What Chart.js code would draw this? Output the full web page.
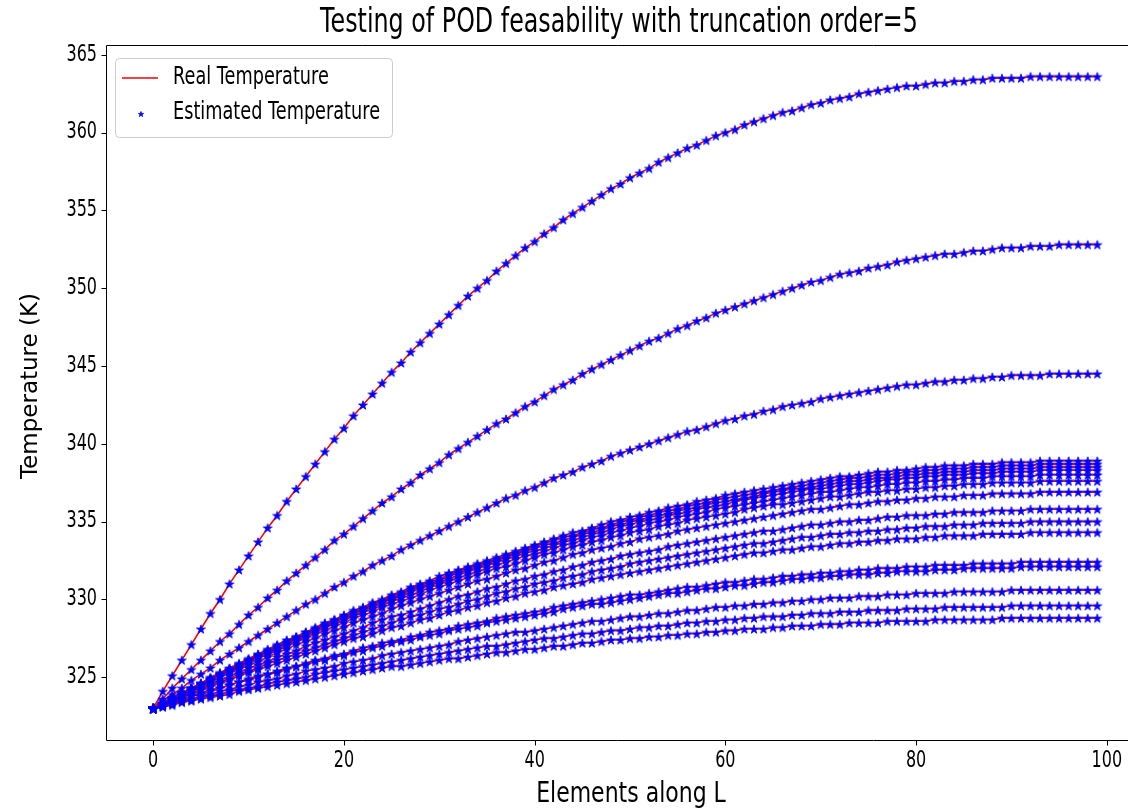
<!DOCTYPE html>
<html>
<head>
<meta charset="utf-8">
<title>Testing of POD feasability</title>
<script src="https://cdn.jsdelivr.net/npm/chart.js@4.4.1/dist/chart.umd.min.js"></script>
<style>
  html, body { margin: 0; padding: 0; background: #fff; overflow: hidden; }
  #wrap { width: 1128px; height: 810px; }
  canvas { display: block; }
</style>
</head>
<body>
<div id="wrap"><canvas id="myChart" width="1128" height="810"></canvas></div>
<script>
// element index along L
const elements = [
  0,1,2,3,4,5,6,7,8,9,10,11,12,13,14,15,16,17,18,19,
  20,21,22,23,24,25,26,27,28,29,30,31,32,33,34,35,36,37,38,39,
  40,41,42,43,44,45,46,47,48,49,50,51,52,53,54,55,56,57,58,59,
  60,61,62,63,64,65,66,67,68,69,70,71,72,73,74,75,76,77,78,79,
  80,81,82,83,84,85,86,87,88,89,90,91,92,93,94,95,96,97,98,99
];

// temperature profiles (K), one per snapshot
const run01 = [
  323.0,324.1,325.1,326.1,327.1,328.1,329.1,330.0,331.0,331.9,
  332.8,333.7,334.6,335.4,336.3,337.1,337.9,338.7,339.5,340.3,
  341.0,341.8,342.5,343.2,343.9,344.6,345.2,345.9,346.5,347.1,
  347.7,348.3,348.9,349.5,350.0,350.5,351.1,351.6,352.1,352.6,
  353.0,353.5,353.9,354.4,354.8,355.2,355.6,356.0,356.4,356.7,
  357.1,357.4,357.7,358.1,358.4,358.7,359.0,359.2,359.5,359.8,
  360.0,360.2,360.5,360.7,360.9,361.1,361.3,361.4,361.6,361.8,
  361.9,362.1,362.2,362.3,362.5,362.6,362.7,362.8,362.9,363.0,
  363.0,363.1,363.2,363.2,363.3,363.3,363.4,363.4,363.5,363.5,
  363.5,363.5,363.6,363.6,363.6,363.6,363.6,363.6,363.6,363.6
];
const run02 = [
  323.0,323.6,324.3,324.9,325.5,326.1,326.7,327.3,327.8,328.4,
  329.0,329.5,330.1,330.6,331.2,331.7,332.2,332.7,333.2,333.8,
  334.2,334.7,335.2,335.7,336.2,336.6,337.1,337.5,338.0,338.4,
  338.8,339.3,339.7,340.1,340.5,340.9,341.3,341.6,342.0,342.4,
  342.7,343.1,343.5,343.8,344.1,344.5,344.8,345.1,345.4,345.7,
  346.0,346.3,346.6,346.8,347.1,347.4,347.6,347.9,348.1,348.4,
  348.6,348.8,349.0,349.2,349.4,349.6,349.8,350.0,350.2,350.4,
  350.5,350.7,350.9,351.0,351.1,351.3,351.4,351.5,351.7,351.8,
  351.9,352.0,352.1,352.2,352.2,352.3,352.4,352.4,352.5,352.6,
  352.6,352.6,352.7,352.7,352.7,352.8,352.8,352.8,352.8,352.8
];
const run03 = [
  323.0,323.5,323.9,324.3,324.8,325.2,325.6,326.1,326.5,326.9,
  327.3,327.7,328.1,328.5,328.9,329.3,329.7,330.0,330.4,330.8,
  331.1,331.5,331.8,332.2,332.5,332.8,333.2,333.5,333.8,334.1,
  334.4,334.7,335.0,335.3,335.6,335.9,336.2,336.5,336.7,337.0,
  337.2,337.5,337.8,338.0,338.2,338.5,338.7,338.9,339.2,339.4,
  339.6,339.8,340.0,340.2,340.4,340.6,340.8,340.9,341.1,341.3,
  341.5,341.6,341.8,341.9,342.1,342.2,342.4,342.5,342.6,342.7,
  342.9,343.0,343.1,343.2,343.3,343.4,343.5,343.6,343.7,343.8,
  343.8,343.9,344.0,344.0,344.1,344.1,344.2,344.2,344.3,344.3,
  344.4,344.4,344.4,344.4,344.5,344.5,344.5,344.5,344.5,344.5
];
const run04 = [
  323.0,323.3,323.7,324.0,324.3,324.6,325.0,325.3,325.6,325.9,
  326.2,326.5,326.8,327.1,327.4,327.6,327.9,328.2,328.5,328.7,
  329.0,329.3,329.5,329.8,330.0,330.3,330.5,330.8,331.0,331.2,
  331.5,331.7,331.9,332.1,332.3,332.5,332.7,332.9,333.1,333.3,
  333.5,333.7,333.9,334.1,334.3,334.4,334.6,334.8,335.0,335.1,
  335.3,335.4,335.6,335.7,335.9,336.0,336.1,336.3,336.4,336.5,
  336.7,336.8,336.9,337.0,337.1,337.2,337.3,337.4,337.5,337.6,
  337.7,337.8,337.9,337.9,338.0,338.1,338.2,338.2,338.3,338.3,
  338.4,338.5,338.5,338.6,338.6,338.6,338.7,338.7,338.7,338.8,
  338.8,338.8,338.8,338.9,338.9,338.9,338.9,338.9,338.9,338.9
];
const run05 = [
  323.0,323.3,323.7,324.0,324.3,324.6,324.9,325.2,325.5,325.8,
  326.1,326.4,326.7,327.0,327.3,327.6,327.9,328.1,328.4,328.7,
  328.9,329.2,329.4,329.7,329.9,330.2,330.4,330.7,330.9,331.1,
  331.3,331.6,331.8,332.0,332.2,332.4,332.6,332.8,333.0,333.2,
  333.4,333.6,333.8,334.0,334.1,334.3,334.5,334.6,334.8,335.0,
  335.1,335.3,335.4,335.6,335.7,335.8,336.0,336.1,336.2,336.4,
  336.5,336.6,336.7,336.8,336.9,337.0,337.1,337.2,337.3,337.4,
  337.5,337.6,337.7,337.8,337.8,337.9,338.0,338.0,338.1,338.2,
  338.2,338.3,338.3,338.4,338.4,338.4,338.5,338.5,338.5,338.6,
  338.6,338.6,338.6,338.7,338.7,338.7,338.7,338.7,338.7,338.7
];
const run06 = [
  323.0,323.3,323.7,324.0,324.3,324.6,324.9,325.2,325.5,325.8,
  326.1,326.4,326.7,327.0,327.2,327.5,327.8,328.1,328.3,328.6,
  328.9,329.1,329.4,329.6,329.8,330.1,330.3,330.6,330.8,331.0,
  331.2,331.5,331.7,331.9,332.1,332.3,332.5,332.7,332.9,333.1,
  333.3,333.5,333.6,333.8,334.0,334.2,334.3,334.5,334.7,334.8,
  335.0,335.1,335.3,335.4,335.5,335.7,335.8,335.9,336.1,336.2,
  336.3,336.4,336.5,336.6,336.8,336.9,337.0,337.1,337.1,337.2,
  337.3,337.4,337.5,337.6,337.6,337.7,337.8,337.8,337.9,338.0,
  338.0,338.1,338.1,338.2,338.2,338.2,338.3,338.3,338.3,338.4,
  338.4,338.4,338.4,338.5,338.5,338.5,338.5,338.5,338.5,338.5
];
const run07 = [
  323.0,323.3,323.6,324.0,324.3,324.6,324.9,325.2,325.5,325.8,
  326.1,326.4,326.6,326.9,327.2,327.5,327.7,328.0,328.3,328.5,
  328.8,329.0,329.3,329.5,329.8,330.0,330.2,330.5,330.7,330.9,
  331.1,331.3,331.6,331.8,332.0,332.2,332.4,332.6,332.8,333.0,
  333.1,333.3,333.5,333.7,333.8,334.0,334.2,334.3,334.5,334.7,
  334.8,335.0,335.1,335.2,335.4,335.5,335.6,335.8,335.9,336.0,
  336.1,336.3,336.4,336.5,336.6,336.7,336.8,336.9,337.0,337.1,
  337.1,337.2,337.3,337.4,337.4,337.5,337.6,337.7,337.7,337.8,
  337.8,337.9,337.9,338.0,338.0,338.0,338.1,338.1,338.1,338.2,
  338.2,338.2,338.2,338.3,338.3,338.3,338.3,338.3,338.3,338.3
];
const run08 = [
  323.0,323.3,323.6,323.9,324.2,324.5,324.8,325.1,325.4,325.7,
  326.0,326.3,326.6,326.8,327.1,327.4,327.6,327.9,328.2,328.4,
  328.7,328.9,329.2,329.4,329.6,329.9,330.1,330.3,330.5,330.8,
  331.0,331.2,331.4,331.6,331.8,332.0,332.2,332.4,332.6,332.8,
  332.9,333.1,333.3,333.5,333.6,333.8,334.0,334.1,334.3,334.4,
  334.6,334.7,334.9,335.0,335.1,335.3,335.4,335.5,335.6,335.8,
  335.9,336.0,336.1,336.2,336.3,336.4,336.5,336.6,336.7,336.8,
  336.9,336.9,337.0,337.1,337.2,337.2,337.3,337.4,337.4,337.5,
  337.5,337.6,337.6,337.7,337.7,337.8,337.8,337.8,337.9,337.9,
  337.9,337.9,337.9,338.0,338.0,338.0,338.0,338.0,338.0,338.0
];
const run09 = [
  323.0,323.3,323.6,323.9,324.2,324.5,324.8,325.1,325.4,325.6,
  325.9,326.2,326.5,326.7,327.0,327.3,327.5,327.8,328.0,328.3,
  328.5,328.8,329.0,329.2,329.5,329.7,329.9,330.1,330.3,330.6,
  330.8,331.0,331.2,331.4,331.6,331.8,332.0,332.1,332.3,332.5,
  332.7,332.9,333.0,333.2,333.4,333.5,333.7,333.8,334.0,334.1,
  334.3,334.4,334.5,334.7,334.8,334.9,335.1,335.2,335.3,335.4,
  335.5,335.6,335.8,335.9,336.0,336.1,336.1,336.2,336.3,336.4,
  336.5,336.6,336.6,336.7,336.8,336.9,336.9,337.0,337.0,337.1,
  337.1,337.2,337.2,337.3,337.3,337.4,337.4,337.4,337.5,337.5,
  337.5,337.5,337.5,337.6,337.6,337.6,337.6,337.6,337.6,337.6
];
const run10 = [
  323.0,323.3,323.6,323.9,324.2,324.4,324.7,325.0,325.3,325.5,
  325.8,326.0,326.3,326.6,326.8,327.1,327.3,327.5,327.8,328.0,
  328.2,328.5,328.7,328.9,329.1,329.4,329.6,329.8,330.0,330.2,
  330.4,330.6,330.8,331.0,331.2,331.3,331.5,331.7,331.9,332.0,
  332.2,332.4,332.5,332.7,332.9,333.0,333.2,333.3,333.4,333.6,
  333.7,333.9,334.0,334.1,334.2,334.4,334.5,334.6,334.7,334.8,
  334.9,335.0,335.1,335.2,335.3,335.4,335.5,335.6,335.7,335.8,
  335.8,335.9,336.0,336.1,336.1,336.2,336.3,336.3,336.4,336.4,
  336.5,336.5,336.6,336.6,336.6,336.7,336.7,336.7,336.8,336.8,
  336.8,336.8,336.8,336.9,336.9,336.9,336.9,336.9,336.9,336.9
];
const run11 = [
  323.0,323.3,323.5,323.8,324.1,324.3,324.6,324.8,325.1,325.3,
  325.6,325.8,326.0,326.3,326.5,326.7,327.0,327.2,327.4,327.6,
  327.8,328.0,328.2,328.5,328.7,328.9,329.0,329.2,329.4,329.6,
  329.8,330.0,330.2,330.3,330.5,330.7,330.8,331.0,331.2,331.3,
  331.5,331.6,331.8,331.9,332.1,332.2,332.4,332.5,332.6,332.8,
  332.9,333.0,333.1,333.2,333.4,333.5,333.6,333.7,333.8,333.9,
  334.0,334.1,334.2,334.3,334.4,334.4,334.5,334.6,334.7,334.8,
  334.8,334.9,335.0,335.0,335.1,335.1,335.2,335.3,335.3,335.4,
  335.4,335.4,335.5,335.5,335.6,335.6,335.6,335.6,335.7,335.7,
  335.7,335.7,335.8,335.8,335.8,335.8,335.8,335.8,335.8,335.8
];
const run12 = [
  323.0,323.3,323.5,323.8,324.0,324.2,324.5,324.7,324.9,325.2,
  325.4,325.6,325.9,326.1,326.3,326.5,326.7,326.9,327.1,327.3,
  327.5,327.7,327.9,328.1,328.3,328.5,328.7,328.9,329.0,329.2,
  329.4,329.5,329.7,329.9,330.0,330.2,330.4,330.5,330.7,330.8,
  331.0,331.1,331.2,331.4,331.5,331.6,331.8,331.9,332.0,332.1,
  332.3,332.4,332.5,332.6,332.7,332.8,332.9,333.0,333.1,333.2,
  333.3,333.4,333.5,333.6,333.6,333.7,333.8,333.9,334.0,334.0,
  334.1,334.2,334.2,334.3,334.3,334.4,334.4,334.5,334.5,334.6,
  334.6,334.7,334.7,334.7,334.8,334.8,334.8,334.9,334.9,334.9,
  334.9,334.9,335.0,335.0,335.0,335.0,335.0,335.0,335.0,335.0
];
const run13 = [
  323.0,323.2,323.5,323.7,323.9,324.2,324.4,324.6,324.8,325.1,
  325.3,325.5,325.7,325.9,326.1,326.3,326.5,326.7,326.9,327.1,
  327.3,327.5,327.6,327.8,328.0,328.2,328.3,328.5,328.7,328.8,
  329.0,329.2,329.3,329.5,329.6,329.8,329.9,330.1,330.2,330.4,
  330.5,330.6,330.8,330.9,331.0,331.1,331.3,331.4,331.5,331.6,
  331.7,331.8,331.9,332.0,332.1,332.2,332.3,332.4,332.5,332.6,
  332.7,332.8,332.9,333.0,333.0,333.1,333.2,333.2,333.3,333.4,
  333.4,333.5,333.6,333.6,333.7,333.7,333.8,333.8,333.9,333.9,
  333.9,334.0,334.0,334.1,334.1,334.1,334.1,334.2,334.2,334.2,
  334.2,334.2,334.3,334.3,334.3,334.3,334.3,334.3,334.3,334.3
];
const run14 = [
  323.0,323.2,323.4,323.6,323.8,324.0,324.2,324.3,324.5,324.7,
  324.9,325.1,325.2,325.4,325.6,325.7,325.9,326.1,326.2,326.4,
  326.5,326.7,326.9,327.0,327.2,327.3,327.4,327.6,327.7,327.9,
  328.0,328.1,328.3,328.4,328.5,328.6,328.8,328.9,329.0,329.1,
  329.2,329.3,329.5,329.6,329.7,329.8,329.9,330.0,330.1,330.2,
  330.3,330.3,330.4,330.5,330.6,330.7,330.8,330.8,330.9,331.0,
  331.1,331.1,331.2,331.3,331.3,331.4,331.5,331.5,331.6,331.6,
  331.7,331.7,331.8,331.8,331.9,331.9,332.0,332.0,332.0,332.1,
  332.1,332.1,332.2,332.2,332.2,332.2,332.3,332.3,332.3,332.3,
  332.3,332.4,332.4,332.4,332.4,332.4,332.4,332.4,332.4,332.4
];
const run15 = [
  323.0,323.2,323.4,323.6,323.8,323.9,324.1,324.3,324.5,324.7,
  324.8,325.0,325.2,325.3,325.5,325.7,325.8,326.0,326.1,326.3,
  326.4,326.6,326.7,326.9,327.0,327.2,327.3,327.4,327.6,327.7,
  327.8,328.0,328.1,328.2,328.3,328.5,328.6,328.7,328.8,328.9,
  329.0,329.1,329.2,329.4,329.5,329.6,329.7,329.7,329.8,329.9,
  330.0,330.1,330.2,330.3,330.4,330.4,330.5,330.6,330.7,330.7,
  330.8,330.9,330.9,331.0,331.1,331.1,331.2,331.3,331.3,331.4,
  331.4,331.5,331.5,331.6,331.6,331.6,331.7,331.7,331.8,331.8,
  331.8,331.8,331.9,331.9,331.9,332.0,332.0,332.0,332.0,332.0,
  332.0,332.1,332.1,332.1,332.1,332.1,332.1,332.1,332.1,332.1
];
const run16 = [
  323.0,323.2,323.3,323.5,323.6,323.8,323.9,324.1,324.2,324.4,
  324.5,324.7,324.8,324.9,325.1,325.2,325.4,325.5,325.6,325.7,
  325.9,326.0,326.1,326.2,326.4,326.5,326.6,326.7,326.8,326.9,
  327.0,327.1,327.3,327.4,327.5,327.6,327.7,327.8,327.9,327.9,
  328.0,328.1,328.2,328.3,328.4,328.5,328.6,328.6,328.7,328.8,
  328.9,328.9,329.0,329.1,329.1,329.2,329.3,329.3,329.4,329.5,
  329.5,329.6,329.6,329.7,329.7,329.8,329.8,329.9,329.9,330.0,
  330.0,330.1,330.1,330.1,330.2,330.2,330.2,330.3,330.3,330.3,
  330.4,330.4,330.4,330.4,330.5,330.5,330.5,330.5,330.5,330.5,
  330.6,330.6,330.6,330.6,330.6,330.6,330.6,330.6,330.6,330.6
];
const run17 = [
  323.0,323.1,323.3,323.4,323.5,323.7,323.8,323.9,324.1,324.2,
  324.3,324.4,324.6,324.7,324.8,324.9,325.0,325.2,325.3,325.4,
  325.5,325.6,325.7,325.8,325.9,326.0,326.1,326.2,326.3,326.4,
  326.5,326.6,326.7,326.8,326.9,327.0,327.0,327.1,327.2,327.3,
  327.4,327.5,327.5,327.6,327.7,327.8,327.8,327.9,328.0,328.0,
  328.1,328.2,328.2,328.3,328.3,328.4,328.5,328.5,328.6,328.6,
  328.7,328.7,328.8,328.8,328.9,328.9,328.9,329.0,329.0,329.1,
  329.1,329.1,329.2,329.2,329.2,329.3,329.3,329.3,329.3,329.4,
  329.4,329.4,329.4,329.5,329.5,329.5,329.5,329.5,329.5,329.5,
  329.6,329.6,329.6,329.6,329.6,329.6,329.6,329.6,329.6,329.6
];
const run18 = [
  323.0,323.1,323.2,323.4,323.5,323.6,323.7,323.8,323.9,324.1,
  324.2,324.3,324.4,324.5,324.6,324.7,324.8,324.9,325.0,325.1,
  325.2,325.3,325.4,325.5,325.6,325.7,325.7,325.8,325.9,326.0,
  326.1,326.2,326.2,326.3,326.4,326.5,326.6,326.6,326.7,326.8,
  326.8,326.9,327.0,327.0,327.1,327.2,327.2,327.3,327.4,327.4,
  327.5,327.5,327.6,327.6,327.7,327.7,327.8,327.8,327.9,327.9,
  328.0,328.0,328.1,328.1,328.1,328.2,328.2,328.3,328.3,328.3,
  328.4,328.4,328.4,328.5,328.5,328.5,328.5,328.6,328.6,328.6,
  328.6,328.6,328.7,328.7,328.7,328.7,328.7,328.7,328.7,328.8,
  328.8,328.8,328.8,328.8,328.8,328.8,328.8,328.8,328.8,328.8
];

const xTicks = [0, 20, 40, 60, 80, 100];
const yTicks = [325, 330, 335, 340, 345, 350, 355, 360, 365];

const titleText = "Testing of POD feasability with truncation order=5";
const xLabel = "Elements along L";
const yLabel = "Temperature (K)";
const legendLabels = ["Real Temperature", "Estimated Temperature"];

const runs = [run01, run02, run03, run04, run05, run06, run07, run08, run09,
              run10, run11, run12, run13, run14, run15, run16, run17, run18];

// filled five point star, like the matplotlib "*" marker
const makeStar = (size, outer) => {
  const c = document.createElement("canvas");
  c.width = size;
  c.height = size;
  const g = c.getContext("2d");
  const inner = outer * 0.382;
  g.beginPath();
  for (let i = 0; i < 10; i++) {
    const r = i % 2 === 0 ? outer : inner;
    const a = -Math.PI / 2 + i * Math.PI / 5;
    const px = size / 2 + r * Math.cos(a);
    const py = size / 2 + r * Math.sin(a) + outer * 0.1;
    if (i === 0) g.moveTo(px, py); else g.lineTo(px, py);
  }
  g.closePath();
  g.fillStyle = "#0000ff";
  g.fill();
  g.strokeStyle = "#0000ff";
  g.lineWidth = 0.8;
  g.stroke();
  return c;
};

const starImg = makeStar(12, 4.7);
const legendStar = makeStar(8, 2.8);

// the reference text is tall and narrow, so stretch it vertically
const drawText = (ctx, text, x, y, size, stretch, align) => {
  ctx.save();
  ctx.translate(x, y);
  ctx.scale(1, stretch);
  ctx.font = size + 'px "DejaVu Sans"';
  ctx.textAlign = align;
  ctx.textBaseline = "middle";
  ctx.fillStyle = "#000";
  ctx.fillText(text, 0, 0);
  ctx.restore();
};

const framePlugin = {
  id: "podFrame",
  afterDraw(chart) {
    const { ctx, chartArea, scales } = chart;
    const left = Math.round(chartArea.left) + 0.5;
    const top = Math.round(chartArea.top) + 0.5;
    const bottom = Math.round(chartArea.bottom) + 0.5;
    const right = chart.width + 2;

    // spines: left, bottom, top (the right one falls outside the picture)
    ctx.save();
    ctx.strokeStyle = "#000";
    ctx.lineWidth = 1;
    ctx.beginPath();
    ctx.moveTo(left, top);
    ctx.lineTo(right, top);
    ctx.moveTo(left, top);
    ctx.lineTo(left, bottom);
    ctx.lineTo(right, bottom);
    xTicks.forEach((v) => {
      const px = Math.round(scales.x.getPixelForValue(v)) + 0.5;
      ctx.moveTo(px, bottom);
      ctx.lineTo(px, bottom + 5);
    });
    yTicks.forEach((v) => {
      const py = Math.round(scales.y.getPixelForValue(v)) + 0.5;
      ctx.moveTo(left, py);
      ctx.lineTo(left - 5, py);
    });
    ctx.stroke();
    ctx.restore();

    xTicks.forEach((v) => {
      drawText(ctx, String(v), scales.x.getPixelForValue(v), 761, 16, 1.4, "center");
    });
    yTicks.forEach((v) => {
      drawText(ctx, String(v), 97, scales.y.getPixelForValue(v), 16, 1.4, "right");
    });

    drawText(ctx, titleText, 619, 23, 23.8, 1.4, "center");
    drawText(ctx, xLabel, 631, 795, 22, 1.3, "center");

    ctx.save();
    ctx.translate(31, 386);
    ctx.rotate(-Math.PI / 2);
    ctx.font = '23px "DejaVu Sans"';
    ctx.textAlign = "center";
    ctx.textBaseline = "middle";
    ctx.fillStyle = "#000";
    ctx.fillText(yLabel, 0, 0);
    ctx.restore();

    // legend box
    ctx.save();
    ctx.beginPath();
    ctx.roundRect(115.5, 58.5, 277, 79, 4);
    ctx.fillStyle = "rgba(255,255,255,0.8)";
    ctx.fill();
    ctx.strokeStyle = "#cccccc";
    ctx.lineWidth = 1;
    ctx.stroke();
    ctx.strokeStyle = "#ff0000";
    ctx.lineWidth = 1.5;
    ctx.beginPath();
    ctx.moveTo(122, 78);
    ctx.lineTo(158, 78);
    ctx.stroke();
    ctx.drawImage(legendStar, 141 - 4, 114 - 4);
    ctx.restore();
    drawText(ctx, legendLabels[0], 173, 78, 17.7, 1.4, "left");
    drawText(ctx, legendLabels[1], 173, 113, 17.7, 1.4, "left");
  }
};

const lineSets = runs.map((run, i) => ({
  label: legendLabels[0] + " " + (i + 1),
  data: run.map((t, k) => ({ x: elements[k], y: t })),
  showLine: true,
  borderColor: "#ff0000",
  borderWidth: 1.6,
  pointRadius: 0,
  tension: 0,
  order: 1,
}));

const starSets = runs.map((run, i) => ({
  label: legendLabels[1] + " " + (i + 1),
  data: run.map((t, k) => ({ x: elements[k], y: t })),
  showLine: false,
  pointStyle: starImg,
  pointRadius: 4,
  order: 0,
}));

new Chart(document.getElementById("myChart"), {
  type: "scatter",
  data: { datasets: [...lineSets, ...starSets] },
  options: {
    responsive: false,
    animation: false,
    devicePixelRatio: 1,
    layout: { padding: { top: 45, left: 0, right: 0, bottom: 0 } },
    plugins: {
      legend: { display: false },
      title: { display: false },
      tooltip: { enabled: false },
    },
    scales: {
      x: {
        type: "linear",
        min: -4.95,
        max: 101.7,
        afterBuildTicks: (s) => { s.ticks = xTicks.map((v) => ({ value: v })); },
        afterFit: (s) => { s.height = 70; },
        ticks: { display: false },
        grid: { display: false },
        border: { display: false },
      },
      y: {
        type: "linear",
        min: 320.97,
        max: 365.63,
        afterBuildTicks: (s) => { s.ticks = yTicks.map((v) => ({ value: v })); },
        afterFit: (s) => { s.width = 106; },
        ticks: { display: false },
        grid: { display: false },
        border: { display: false },
      },
    },
  },
  plugins: [framePlugin],
});
</script>
</body>
</html>
